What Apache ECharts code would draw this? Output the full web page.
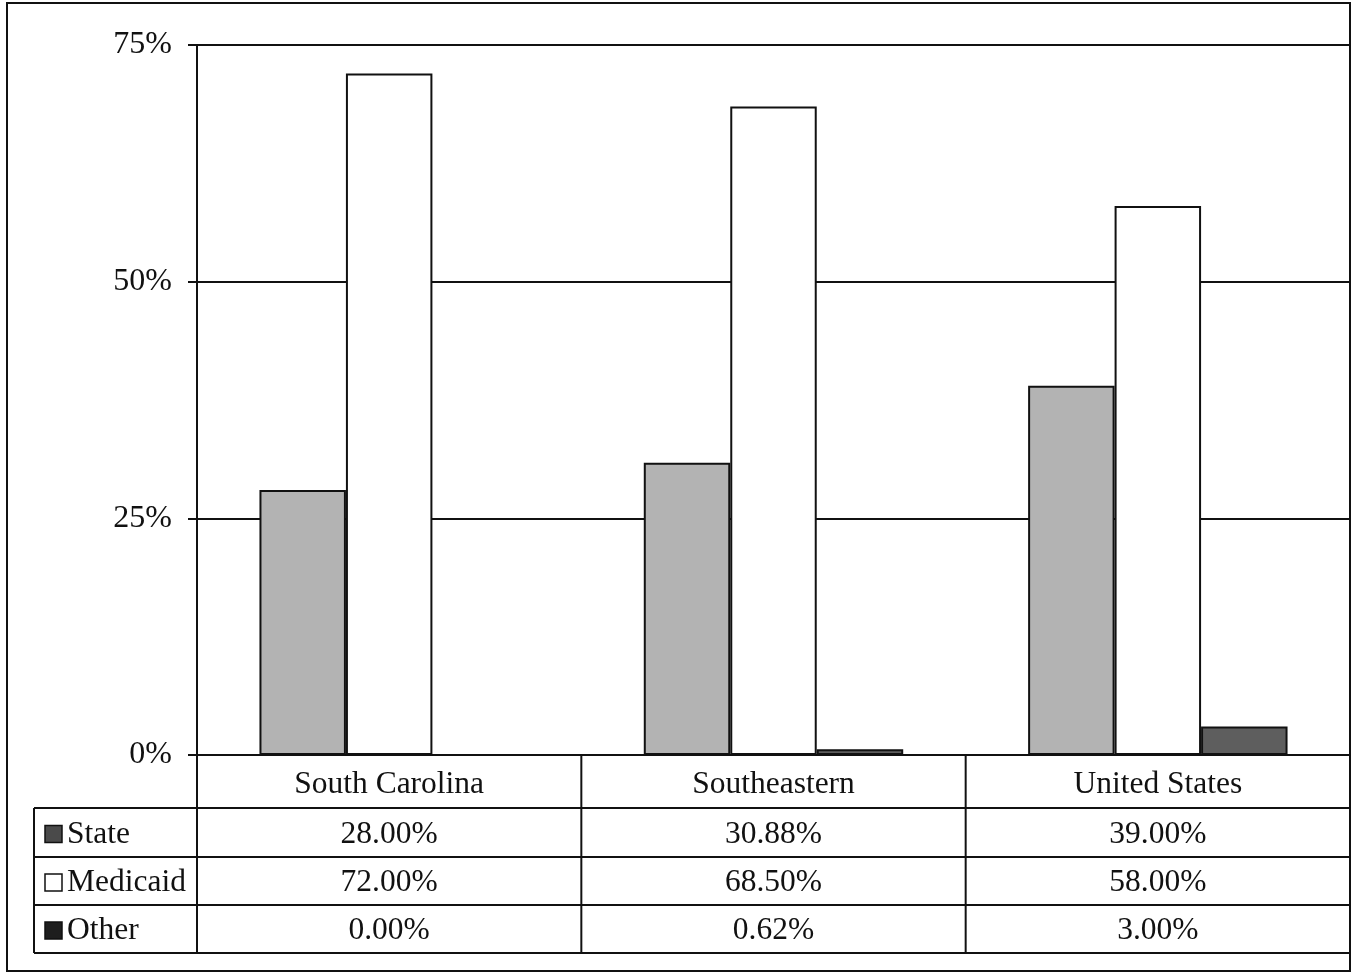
<!DOCTYPE html>
<html>
<head>
<meta charset="utf-8">
<script src="https://cdn.jsdelivr.net/npm/echarts@6/dist/echarts.min.js"></script>
<style>
  html, body { margin: 0; padding: 0; background: #fff; }
  #chart { width: 1353px; height: 974px; }
</style>
</head>
<body>
<div id="chart"></div>
<script>
// Funding source shares by region
const categories = ['South Carolina', 'Southeastern', 'United States'];
const seriesNames = ['State', 'Medicaid', 'Other'];
const stateValues = [28.00, 30.88, 39.00];
const medicaidValues = [72.00, 68.50, 58.00];
const otherValues = [0.00, 0.62, 3.00];
const yTicks = [0, 25, 50, 75];

const seriesValues = [stateValues, medicaidValues, otherValues];
const barColors = ['#b3b3b3', '#ffffff', '#5e5e5e'];
const keyColors = ['#4a4a4a', '#ffffff', '#1e1e1e'];

const FONT = '"Liberation Serif", "Times New Roman", serif';
const INK = '#111';
const TXT = 31.5;

const chart = echarts.init(document.getElementById('chart'), null, { renderer: 'canvas' });

const GRID = { left: 197, right: 3, top: 45, bottom: 219 };

chart.setOption({
  animation: false,
  backgroundColor: '#fff',
  grid: GRID,
  xAxis: {
    type: 'category',
    data: categories,
    axisLine: { lineStyle: { color: INK, width: 2 } },
    axisTick: { show: false },
    axisLabel: {
      fontFamily: FONT, fontSize: TXT, color: INK,
      verticalAlign: 'middle', margin: 30
    }
  },
  yAxis: {
    type: 'value',
    min: yTicks[0],
    max: yTicks[yTicks.length - 1],
    interval: yTicks[1] - yTicks[0],
    axisLine: { show: true, lineStyle: { color: INK, width: 2 } },
    axisTick: { show: true, length: 9, lineStyle: { color: INK, width: 2 } },
    splitLine: { lineStyle: { color: INK, width: 2 } },
    axisLabel: {
      fontFamily: FONT, fontSize: 32, color: INK, margin: 25,
      padding: [4, 0, 0, 0],
      formatter: '{value}%'
    }
  },
  series: seriesNames.map((name, i) => ({
    name,
    type: 'bar',
    data: seriesValues[i],
    barGap: '0%',
    barCategoryGap: '32.5%',
    itemStyle: { color: barColors[i], borderColor: INK, borderWidth: 2 }
  }))
});

// Data table beneath the plot
function drawTable() {
  const els = [];
  const centers = categories.map((c, i) => chart.convertToPixel({ xAxisIndex: 0 }, i));
  const half = (centers[1] - centers[0]) / 2;
  const colEdges = [centers[0] - half].concat(centers.map(c => c + half));
  const axisY = chart.convertToPixel({ yAxisIndex: 0 }, 0);
  const rowLines = [808, 857, 905, 953];
  const tableLeft = 34;
  const right = colEdges[colEdges.length - 1];
  const line = (x1, y1, x2, y2) => ({
    type: 'line', shape: { x1, y1, x2, y2 },
    style: { stroke: INK, lineWidth: 2 }, silent: true
  });

  rowLines.forEach(y => els.push(line(tableLeft, y, right, y)));
  els.push(line(tableLeft, rowLines[0], tableLeft, rowLines[rowLines.length - 1]));
  colEdges.slice(0, -1).forEach(x => els.push(line(x, axisY, x, rowLines[rowLines.length - 1])));

  seriesNames.forEach((name, r) => {
    const cy = (rowLines[r] + rowLines[r + 1]) / 2 + 2;
    els.push({
      type: 'rect', shape: { x: 45, y: cy - 9, width: 17, height: 17 },
      style: { fill: keyColors[r], stroke: INK, lineWidth: 1.5 }, silent: true
    });
    els.push({
      type: 'text', x: 67, y: cy,
      style: { text: name, font: TXT + 'px ' + FONT, fill: INK, verticalAlign: 'middle', align: 'left' },
      silent: true
    });
    seriesValues[r].forEach((v, c) => {
      els.push({
        type: 'text', x: centers[c], y: cy,
        style: { text: v.toFixed(2) + '%', font: TXT + 'px ' + FONT, fill: INK, verticalAlign: 'middle', align: 'center' },
        silent: true
      });
    });
  });

  // outer frame
  els.push({
    type: 'rect', shape: { x: 7, y: 3, width: 1343, height: 968 },
    style: { fill: null, stroke: INK, lineWidth: 2 }, silent: true
  });

  chart.setOption({ graphic: { elements: els } });
}
drawTable();
</script>
</body>
</html>
